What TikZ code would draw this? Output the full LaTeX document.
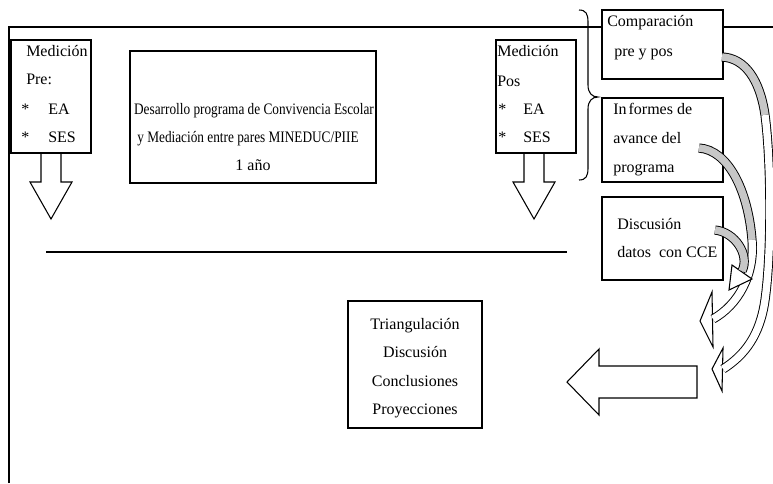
\documentclass[tikz,border=0pt]{standalone}
\usepackage{fontspec}
\setmainfont{Liberation Serif}
\newfontfamily\narrowfont[FakeStretch=0.83]{Liberation Serif}
\usetikzlibrary{positioning}

\tikzset{
  box/.style={draw,line width=0.8pt,fill=white,inner sep=0pt},
  lbl/.style={inner sep=0pt,font=\fontsize{12}{14}\selectfont,text height=8pt,text depth=2pt},
  blockarrow/.style={draw,line width=0.8pt,line join=miter},
  band/.style={line width=0.7pt,double=white,double distance=5.5pt},
  greyband/.style={line width=0.7pt,double=black!22,double distance=5.5pt},
}

\begin{document}
\begin{tikzpicture}[x=0.75pt,y=-0.75pt]
\useasboundingbox (0,0) rectangle (773,483);
% frame
\draw[line width=0.8pt] (9,483) -- (9,27) -- (773,27);
\draw[line width=0.8pt] (579,10) .. controls (586,10) and (588,14) .. (588,22) -- (588,85)
  .. controls (588,93) and (592,97) .. (598,97) .. controls (592,97) and (588,101) .. (588,109)
  -- (588,168) .. controls (588,176) and (586,180) .. (579,180);
\draw[line width=0.8pt] (46,252) -- (567,252);

% boxes
\node[box,minimum width=60pt,minimum height=84.75pt] (pre) at (51,96.5) {};
\node[box,minimum width=60pt,minimum height=84.75pt] (pos) at (536,96.5) {};
\node[box,minimum width=184.5pt,minimum height=99pt] (prog) at (253,117) {};
\node[box,minimum width=90.75pt,minimum height=51.75pt] (comp) at (662.5,44.5) {};
\node[box,minimum width=90.75pt,minimum height=63pt] (inf) at (662.5,140) {};
\node[box,minimum width=90.75pt,minimum height=62.25pt] (disc) at (662.5,238.5) {};
\node[box,minimum width=100.5pt,minimum height=95.25pt] (tri) at (415,364.5) {};

% texts
\node[lbl,anchor=west] (pre1) at (26,52) {Medición};
\node[lbl,anchor=west] (pre2) at (26,80) {Pre:};
\node[lbl,anchor=west] (pre3) at (21,110) {*};
\node[lbl,anchor=west] (pre4) at (48,110) {EA};
\node[lbl,anchor=west] (pre5) at (21,138) {*};
\node[lbl,anchor=west] (pre6) at (48,138) {SES};

\node[lbl,anchor=west] (pos1) at (497,52) {Medición};
\node[lbl,anchor=west] (pos2) at (497,82) {Pos};
\node[lbl,anchor=west] (pos3) at (498,110) {*};
\node[lbl,anchor=west] (pos4) at (523,110) {EA};
\node[lbl,anchor=west] (pos5) at (498,138) {*};
\node[lbl,anchor=west] (pos6) at (523,138) {SES};

\node[lbl,font=\fontsize{12}{14}\narrowfont] (prog1) at (254,110) {Desarrollo programa de Convivencia Escolar};
\node[lbl,font=\fontsize{12}{14}\narrowfont] (prog2) at (248,138) {y Mediación entre pares MINEDUC/PIIE};
\node[lbl] (prog3) at (253,166) {1 año};

\node[lbl,anchor=west] (comp1) at (607,22) {Comparación};
\node[lbl,anchor=west] (comp2) at (614,52) {pre y pos};
\node[lbl,anchor=west] (inf1) at (613,110) {In\kern1.5pt formes de};
\node[lbl,anchor=west] (inf2) at (613,139) {avance del};
\node[lbl,anchor=west] (inf3) at (613,168) {programa};
\node[lbl,anchor=west] (disc1) at (617,225) {Discusión};
\node[lbl,anchor=west] (disc2) at (617,253) {datos~ con CCE};

\node[lbl] (tri1) at (415,325) {Triangulación};
\node[lbl] (tri2) at (415,353) {Discusión};
\node[lbl] (tri3) at (415,382) {Conclusiones};
\node[lbl] (tri4) at (415,410) {Proyecciones};

% block arrows
\draw[blockarrow] (41,153) -- (41,182) -- (30,182) -- (51,219) -- (72,182) -- (61,182) -- (61,153);
\draw[blockarrow] (524,153) -- (524,182) -- (513,182) -- (534,219) -- (555,182) -- (544,182) -- (544,153);
\draw[blockarrow,fill=white] (697,366) -- (599,366) -- (599,349) -- (567,382) -- (599,415)
  -- (599,398) -- (697,398) -- cycle;

% curved arrows
\draw[blockarrow,fill=white] (723,348) -- (712,369) -- (722,391) -- cycle;
\draw[greyband] (722,57) .. controls (745,58) and (760,80) .. (765,115);
\draw[band] (765,115) .. controls (771,160) and (772,250) .. (765,300)
  .. controls (760,335) and (745,355) .. (723,369);

\draw[blockarrow,fill=white] (712,292) -- (700,321) -- (713,347) -- cycle;
\draw[greyband] (699,148) .. controls (728,150) and (748,190) .. (752,240);
\draw[band] (752,240) .. controls (755,275) and (738,305) .. (713,319);

\draw[blockarrow,fill=white] (732,265) -- (729,290) -- (752,279) -- cycle;
\draw[greyband] (715,230) .. controls (735,232) and (750,255) .. (742,271);
\end{tikzpicture}
\end{document}
